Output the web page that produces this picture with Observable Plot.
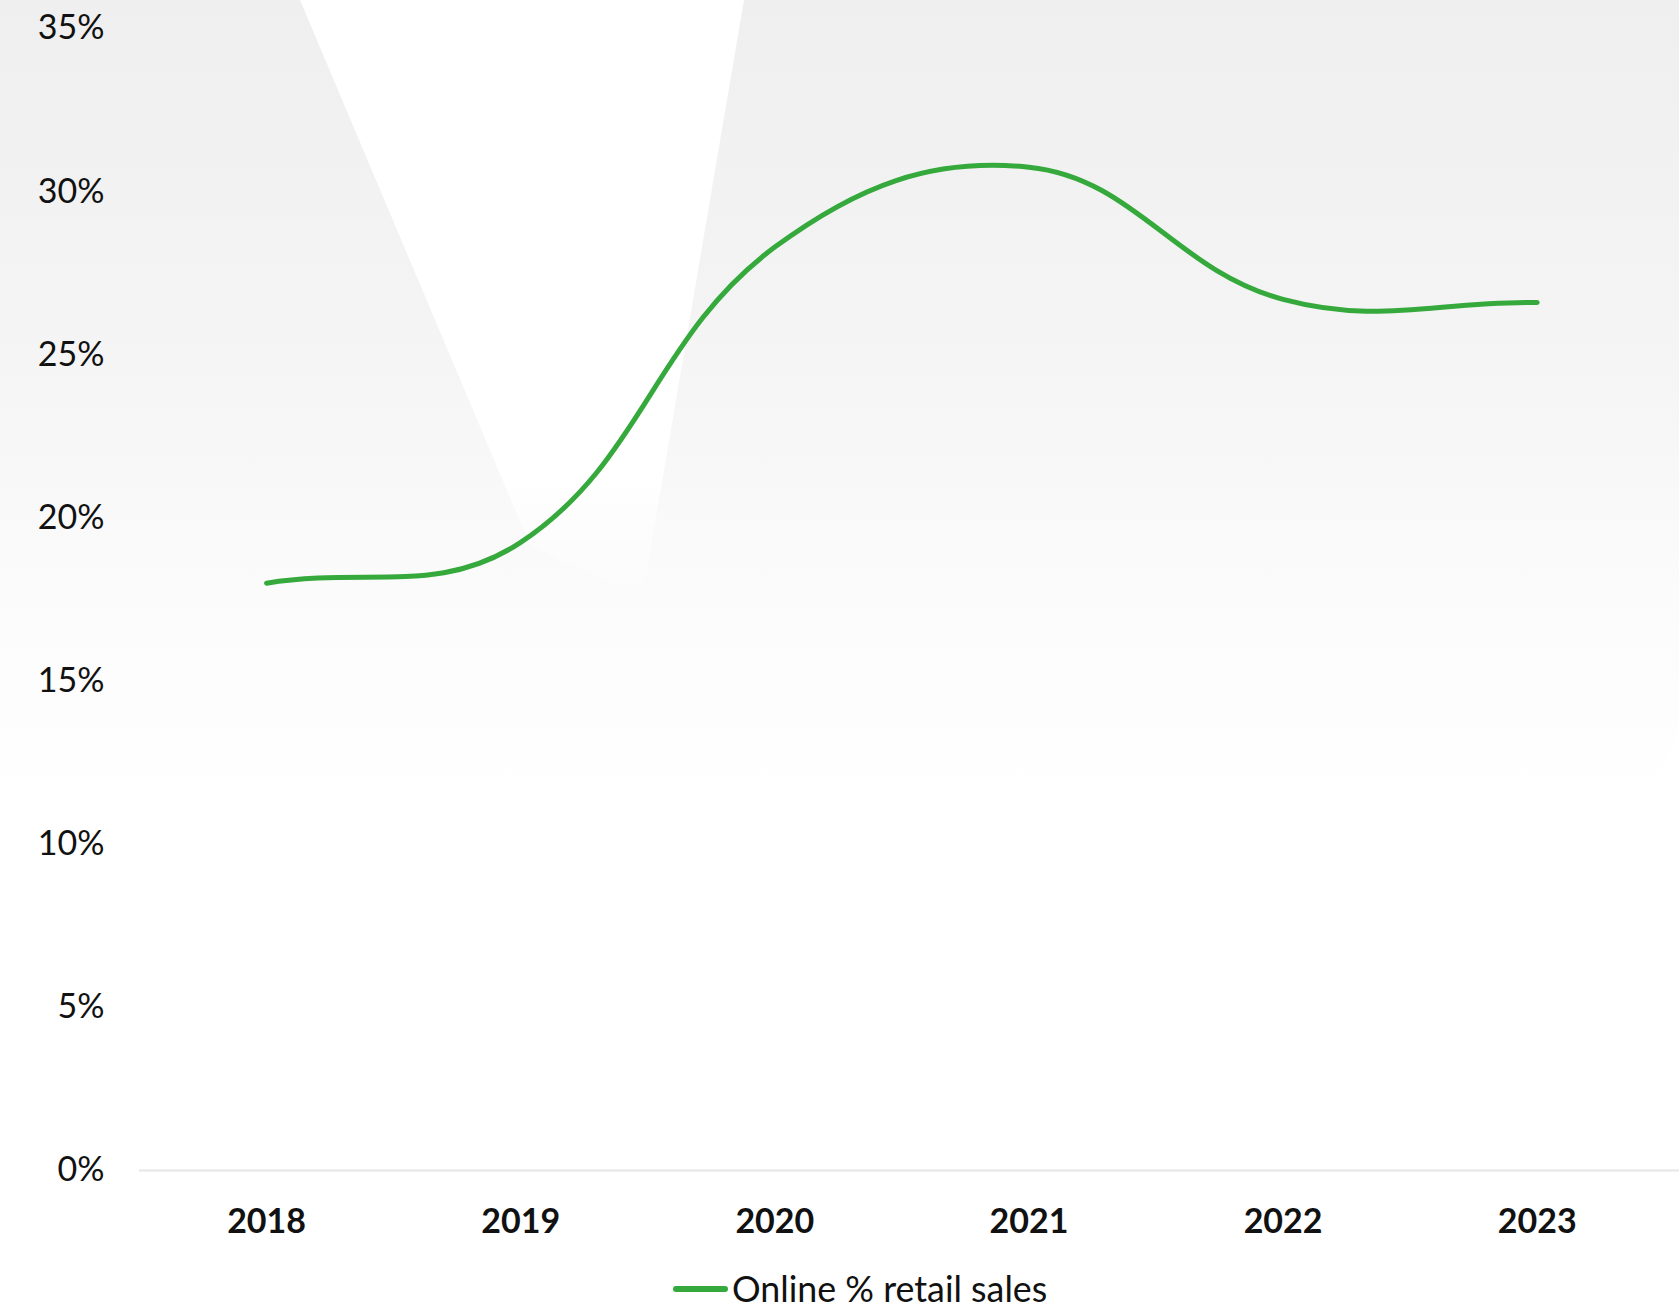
<!DOCTYPE html>
<html>
<head>
<meta charset="utf-8">
<script src="https://cdn.jsdelivr.net/npm/d3@7"></script>
<script src="https://cdn.jsdelivr.net/npm/@observablehq/plot@0.6"></script>
<style>
  html, body { margin: 0; padding: 0; }
  body { width: 1679px; height: 1308px; position: relative; overflow: hidden;
         font-family: "Source Sans Pro", Lato, "Noto Sans", sans-serif;
         background: linear-gradient(to bottom, #efefef 0%, #f4f4f4 25%, #fbfbfb 45%, #ffffff 62%, #ffffff 100%); }
  #deco { position: absolute; left: 0; top: 0; width: 1679px; height: 1308px; z-index: 0; }
  #chart { position: absolute; left: 0; top: 0; z-index: 1; }
  #chart svg { background: transparent !important; }
  #legend { position: absolute; left: 0; top: 1266px; width: 1679px; height: 46px; z-index: 1;
            display: flex; align-items: center; justify-content: flex-start; }
  .sw { margin-left: 673px; width: 55px; height: 6px; border-radius: 3px; background: #35a93c; }
  .lt { font-size: 35.8px; color: #111; margin-left: 4px; line-height: 46px; }
</style>
</head>
<body>
<svg id="deco" width="1679" height="1308">
  <defs>
    <linearGradient id="fade" x1="0" y1="0" x2="0" y2="1">
      <stop offset="0" stop-color="#fff" stop-opacity="1"/>
      <stop offset="0.8" stop-color="#fff" stop-opacity="1"/>
      <stop offset="1" stop-color="#fff" stop-opacity="0"/>
    </linearGradient>
  </defs>
  <polygon points="300,0 744,0 642,600 530,545" fill="url(#fade)"/>
  <polygon points="1679,728 1679,1308 1480,1308 1542,1092" fill="#ffffff"/>
</svg>
<div id="chart"></div>
<div id="legend"><div class="sw"></div><div class="lt">Online % retail sales</div></div>
<script>
const years = [2018, 2019, 2020, 2021, 2022, 2023];
const onlineShare = [18.0, 19.25, 28.3, 30.75, 26.7, 26.6];
const yTicks = [0, 5, 10, 15, 20, 25, 30, 35];
const seriesName = "Online % retail sales";

const data = years.map((y, i) => ({year: y, value: onlineShare[i]}));

// Spline curve with tension 0.4 (distance-weighted control points)
function SplineCurve(context) { this._context = context; this._t = 0.4; }
SplineCurve.prototype = {
  areaStart() { this._line = 0; },
  areaEnd() { this._line = NaN; },
  lineStart() { this._pts = []; },
  point(x, y) { this._pts.push([+x, +y]); },
  lineEnd() {
    const p = this._pts, n = p.length, ctx = this._context, t = this._t;
    if (!n) return;
    if (this._line) ctx.lineTo(p[0][0], p[0][1]); else ctx.moveTo(p[0][0], p[0][1]);
    if (n === 1) return;
    const cp = p.map((cur, i) => {
      const prev = p[Math.max(0, i - 1)], next = p[Math.min(n - 1, i + 1)];
      const d01 = Math.hypot(cur[0] - prev[0], cur[1] - prev[1]);
      const d12 = Math.hypot(next[0] - cur[0], next[1] - cur[1]);
      let s01 = d01 / (d01 + d12), s12 = d12 / (d01 + d12);
      if (!isFinite(s01)) s01 = 0; if (!isFinite(s12)) s12 = 0;
      const fa = t * s01, fb = t * s12;
      return {
        before: [cur[0] - fa * (next[0] - prev[0]), cur[1] - fa * (next[1] - prev[1])],
        after: [cur[0] + fb * (next[0] - prev[0]), cur[1] + fb * (next[1] - prev[1])]
      };
    });
    for (let i = 0; i < n - 1; i++) {
      ctx.bezierCurveTo(cp[i].after[0], cp[i].after[1], cp[i + 1].before[0], cp[i + 1].before[1], p[i + 1][0], p[i + 1][1]);
    }
    if (this._line === 0) ctx.closePath();
  }
};
const splineCurve = context => new SplineCurve(context);

const chart = Plot.plot({
  width: 1679,
  height: 1262,
  marginLeft: 139,
  marginRight: 0,
  marginTop: 28,
  marginBottom: 92,
  style: {fontFamily: '"Source Sans Pro", Lato, "Noto Sans", sans-serif', fontSize: "34px", color: "#111", background: "transparent"},
  x: {type: "linear", domain: [2017.5, 2023.56]},
  y: {domain: [0, 35]},
  marks: [
    Plot.ruleY([0], {stroke: "#e6e6e6", strokeWidth: 2}),
    Plot.axisY({ticks: yTicks, tickSize: 0, tickPadding: 35, tickFormat: d => d + "%", fontSize: 34, label: null}),
    Plot.axisX({ticks: years, tickSize: 0, tickPadding: 38, tickFormat: d => String(d), fontSize: 34, fontWeight: "bold", label: null}),
    Plot.line(data, {x: "year", y: "value", curve: splineCurve, stroke: "#35a93c", strokeWidth: 5, strokeLinecap: "round", strokeLinejoin: "round"})
  ]
});
document.getElementById("chart").appendChild(chart);
</script>
</body>
</html>
